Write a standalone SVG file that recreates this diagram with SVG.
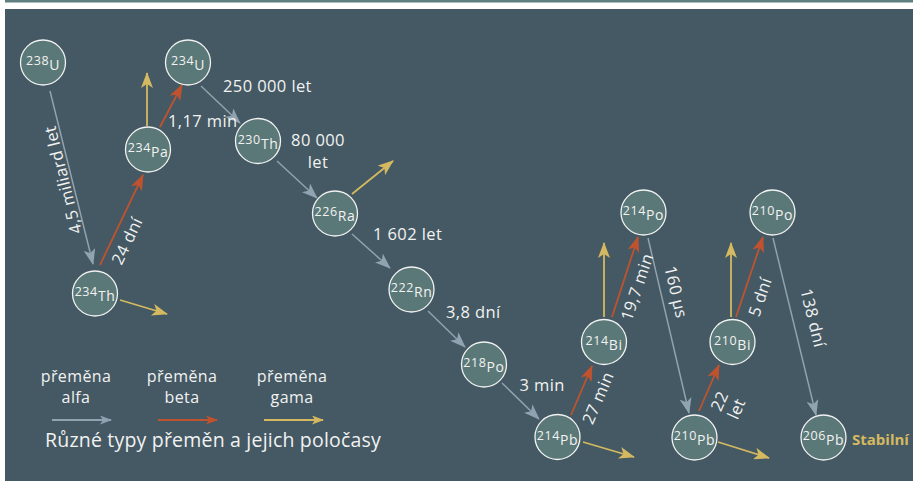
<svg xmlns="http://www.w3.org/2000/svg" width="913" height="482" viewBox="0 0 913 482">
<style>
.nd circle{fill:#5b7878;stroke:#f2f2f2;stroke-width:1.3}
.nd text{font-family:"Open Sans","Noto Sans",sans-serif;fill:#f2f2f2;font-size:14px;text-anchor:middle;letter-spacing:0.6px}
.nd .m{font-size:12.5px}
.lbl{font-family:"Open Sans","Noto Sans",sans-serif;fill:#f2f2f2;font-size:16.5px;letter-spacing:0.4px}
.c{text-anchor:middle}
.a{stroke:#8fa3b0;stroke-width:1.5;fill:none;marker-end:url(#ha)}
.b{stroke:#c0532f;stroke-width:1.8;fill:none;marker-end:url(#hb)}
.g{stroke:#d4b961;stroke-width:1.8;fill:none;marker-end:url(#hg)}
.la{stroke:#8fa3b0;stroke-width:1.8;fill:none;marker-end:url(#sa)}
.lb{stroke:#c0532f;stroke-width:1.8;fill:none;marker-end:url(#sb)}
.lg{stroke:#d4b961;stroke-width:1.8;fill:none;marker-end:url(#sg)}
</style>
<defs>
<marker id="ha" viewBox="0 0 16 12" refX="15" refY="6" markerWidth="16" markerHeight="12" markerUnits="userSpaceOnUse" orient="auto"><path d="M0,0 L16,6 L0,12 L4,6 Z" fill="#8fa3b0"/></marker>
<marker id="hb" viewBox="0 0 16 12" refX="15" refY="6" markerWidth="16" markerHeight="12" markerUnits="userSpaceOnUse" orient="auto"><path d="M0,0 L16,6 L0,12 L4,6 Z" fill="#c0532f"/></marker>
<marker id="hg" viewBox="0 0 16 12" refX="15" refY="6" markerWidth="16" markerHeight="12" markerUnits="userSpaceOnUse" orient="auto"><path d="M0,0 L16,6 L0,12 L4,6 Z" fill="#d4b961"/></marker>
<marker id="sa" viewBox="0 0 12 9" refX="11" refY="4.5" markerWidth="12" markerHeight="9" markerUnits="userSpaceOnUse" orient="auto"><path d="M0,0 L12,4.5 L0,9 L3,4.5 Z" fill="#8fa3b0"/></marker>
<marker id="sb" viewBox="0 0 12 9" refX="11" refY="4.5" markerWidth="12" markerHeight="9" markerUnits="userSpaceOnUse" orient="auto"><path d="M0,0 L12,4.5 L0,9 L3,4.5 Z" fill="#c0532f"/></marker>
<marker id="sg" viewBox="0 0 12 9" refX="11" refY="4.5" markerWidth="12" markerHeight="9" markerUnits="userSpaceOnUse" orient="auto"><path d="M0,0 L12,4.5 L0,9 L3,4.5 Z" fill="#d4b961"/></marker>
</defs>
<rect x="0" y="0" width="913" height="482" fill="#ffffff"/>
<rect x="5" y="0" width="908" height="2.5" fill="#5f7e7e"/>
<rect x="5" y="9" width="908" height="472" fill="#445963"/>

<g id="connectors">
<line class="a" x1="50" y1="91" x2="93" y2="264"/>
<line class="a" x1="201" y1="86" x2="240" y2="123"/>
<line class="a" x1="277" y1="161" x2="317" y2="198"/>
<line class="a" x1="352" y1="234" x2="390" y2="268"/>
<line class="a" x1="428" y1="311" x2="465" y2="347"/>
<line class="a" x1="502" y1="383" x2="539" y2="419"/>
<line class="a" x1="648" y1="238" x2="689" y2="413"/>
<line class="a" x1="773" y1="238" x2="816" y2="415"/>
<line class="b" x1="100" y1="265" x2="143" y2="175"/>
<line class="b" x1="160" y1="127" x2="182" y2="85"/>
<line class="b" x1="571" y1="415" x2="592" y2="366"/>
<line class="b" x1="612" y1="317" x2="638" y2="237"/>
<line class="b" x1="699" y1="411" x2="719" y2="365"/>
<line class="b" x1="736" y1="317" x2="763" y2="237"/>
<line class="g" x1="147" y1="126" x2="147" y2="73"/>
<line class="g" x1="120" y1="300" x2="167" y2="314"/>
<line class="g" x1="352" y1="194" x2="393" y2="161"/>
<line class="g" x1="583" y1="442" x2="634" y2="457"/>
<line class="g" x1="604" y1="317" x2="604" y2="243"/>
<line class="g" x1="731" y1="317" x2="731" y2="243"/>
<line class="g" x1="718" y1="442" x2="769" y2="458"/>
<line class="la" x1="52" y1="420" x2="111" y2="420"/>
<line class="lb" x1="158" y1="420" x2="217" y2="420"/>
<line class="lg" x1="264" y1="420" x2="323" y2="420"/>
</g>

<g id="n238U" class="nd"><circle cx="43" cy="62.5" r="22.5"/><text x="43" y="70"><tspan class="m" dy="-5">238</tspan><tspan dy="5">U</tspan></text></g>
<g id="n234U" class="nd"><circle cx="188" cy="62.5" r="22.5"/><text x="188" y="70"><tspan class="m" dy="-5">234</tspan><tspan dy="5">U</tspan></text></g>
<g id="n234Pa" class="nd"><circle cx="148" cy="149.5" r="22.5"/><text x="148" y="157"><tspan class="m" dy="-5">234</tspan><tspan dy="5">Pa</tspan></text></g>
<g id="n230Th" class="nd"><circle cx="258" cy="141" r="22.5"/><text x="258" y="148.5"><tspan class="m" dy="-5">230</tspan><tspan dy="5">Th</tspan></text></g>
<g id="n234Th" class="nd"><circle cx="95" cy="293.5" r="22.5"/><text x="95" y="301"><tspan class="m" dy="-5">234</tspan><tspan dy="5">Th</tspan></text></g>
<g id="n226Ra" class="nd"><circle cx="335" cy="213.5" r="22.5"/><text x="335" y="221"><tspan class="m" dy="-5">226</tspan><tspan dy="5">Ra</tspan></text></g>
<g id="n222Rn" class="nd"><circle cx="411.5" cy="289.5" r="22.5"/><text x="411.5" y="297"><tspan class="m" dy="-5">222</tspan><tspan dy="5">Rn</tspan></text></g>
<g id="n218Po" class="nd"><circle cx="484" cy="364.5" r="22.5"/><text x="484" y="372"><tspan class="m" dy="-5">218</tspan><tspan dy="5">Po</tspan></text></g>
<g id="n214Pb" class="nd"><circle cx="557.5" cy="437" r="22.5"/><text x="557.5" y="444.5"><tspan class="m" dy="-5">214</tspan><tspan dy="5">Pb</tspan></text></g>
<g id="n214Bi" class="nd"><circle cx="604" cy="342" r="22.5"/><text x="604" y="349.5"><tspan class="m" dy="-5">214</tspan><tspan dy="5">Bi</tspan></text></g>
<g id="n214Po" class="nd"><circle cx="643.5" cy="212.5" r="22.5"/><text x="643.5" y="220"><tspan class="m" dy="-5">214</tspan><tspan dy="5">Po</tspan></text></g>
<g id="n210Po" class="nd"><circle cx="772.5" cy="212.5" r="22.5"/><text x="772.5" y="220"><tspan class="m" dy="-5">210</tspan><tspan dy="5">Po</tspan></text></g>
<g id="n210Bi" class="nd"><circle cx="732.5" cy="342" r="22.5"/><text x="732.5" y="349.5"><tspan class="m" dy="-5">210</tspan><tspan dy="5">Bi</tspan></text></g>
<g id="n210Pb" class="nd"><circle cx="694.5" cy="437.5" r="22.5"/><text x="694.5" y="445"><tspan class="m" dy="-5">210</tspan><tspan dy="5">Pb</tspan></text></g>
<g id="n206Pb" class="nd"><circle cx="823.5" cy="437.5" r="22.5"/><text x="823.5" y="445"><tspan class="m" dy="-5">206</tspan><tspan dy="5">Pb</tspan></text></g>

<g id="labels">
<text class="lbl c" transform="translate(63,180) rotate(-104)" dy="0.35em">4,5 miliard let</text>
<text class="lbl c" transform="translate(127,241) rotate(-64.5)" dy="0.35em">24 dní</text>
<text class="lbl" x="168" y="127">1,17 min</text>
<text class="lbl" x="223" y="92">250 000 let</text>
<text class="lbl c" x="318" y="145.5">80 000</text>
<text class="lbl c" x="318" y="168">let</text>
<text class="lbl" x="373" y="239.5">1 602 let</text>
<text class="lbl" x="446" y="317.5">3,8 dní</text>
<text class="lbl" x="519.5" y="391">3 min</text>
<text class="lbl c" transform="translate(598,398) rotate(-66.8)" dy="0.35em">27 min</text>
<text class="lbl c" transform="translate(637,287) rotate(-71.5)" dy="0.35em">19,7 min</text>
<text class="lbl c" transform="translate(676,292) rotate(76.8)" dy="0.35em">160 μs</text>
<text class="lbl c" transform="translate(760,297) rotate(-71)" dy="0.35em">5 dní</text>
<text class="lbl c" transform="translate(813,318) rotate(76.2)" dy="0.35em">138 dní</text>
<text class="lbl c" transform="translate(728,405) rotate(-66)"><tspan x="0" y="-3.5">22</tspan><tspan x="0" y="15">let</tspan></text>
<text x="852" y="445" style="font-family:'Open Sans','Noto Sans',sans-serif;font-size:15px;font-weight:bold;fill:#d4b961">Stabilní</text>
</g>

<g id="legend">
<text class="lbl c" x="76" y="382" style="font-size:16px">přeměna</text>
<text class="lbl c" x="76" y="403" style="font-size:16px">alfa</text>
<text class="lbl c" x="182" y="382" style="font-size:16px">přeměna</text>
<text class="lbl c" x="182" y="403" style="font-size:16px">beta</text>
<text class="lbl c" x="292" y="382" style="font-size:16px">přeměna</text>
<text class="lbl c" x="292" y="403" style="font-size:16px">gama</text>
<text class="lbl" x="45" y="447" style="font-size:19.5px;letter-spacing:0.2px">Různé typy přeměn a jejich poločasy</text>
</g>
</svg>
